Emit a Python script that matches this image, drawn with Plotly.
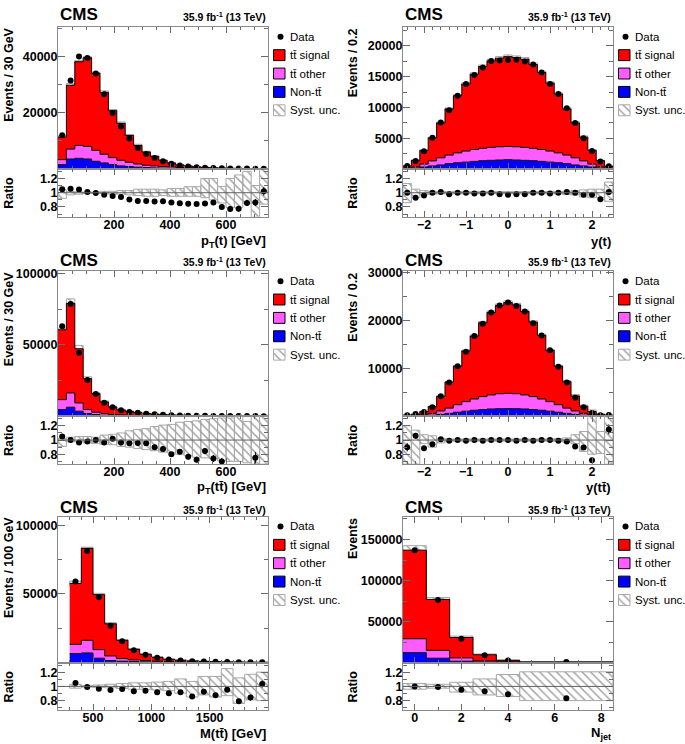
import plotly.graph_objects as go

W, H = 685, 744
TT = "tt\u0304"

# ---------------- data ----------------
# p_T(t)
ptt_edges = list(range(0, 751, 30))
ptt_stack = [11300, 29750, 38100, 39500, 34000, 27200, 20700, 16200, 11900, 8350, 6000, 4450, 3050, 2100, 1400,
             1000, 720, 520, 380, 280, 200, 150, 110, 80, 55]
ptt_other = [3300, 7050, 8350, 8000, 6600, 5200, 4000, 3050, 2350, 1750, 1300, 1050, 820, 700, 500,
             380, 290, 220, 170, 130, 100, 75, 55, 40, 30]
ptt_non = [1500, 3500, 3750, 3500, 2700, 2100, 1500, 1050, 820, 600, 470, 350, 250, 180, 130,
           100, 70, 50, 40, 30, 25, 18, 14, 10, 8]
ptt_data = [12000, 31400, 40000, 39400, 33900, 26500, 19900, 15100, 10800, 7400, 5300, 3900, 2700, 1800, 1200,
            840, 600, 440, 330, 225, 155, 115, 95, 70, 56]
ptt_ratio = [1.05, 1.055, 1.045, 1.01, 0.995, 0.97, 0.955, 0.94, 0.905, 0.885, 0.885, 0.875, 0.88, 0.862, 0.853,
             0.844, 0.84, 0.85, 0.862, 0.80, 0.77, 0.775, 0.857, 0.862, 1.02]
ptt_rerr = [0.005] * 10 + [0.01] * 5 + [0.015, 0.02, 0.02, 0.025, 0.03, 0.035, 0.04, 0.045, 0.05, 0.06]
ptt_hi = [1.04, 1.02, 1.01, 1.01, 1.01, 1.02, 1.02, 1.03, 1.03, 1.05, 1.05, 1.05, 1.04, 1.06, 1.06,
          1.085, 1.085, 1.2, 1.2, 1.09, 1.2, 1.25, 1.3, 1.1, 1.34]
ptt_lo = [0.92, 0.97, 0.98, 0.99, 0.99, 0.99, 0.98, 0.98, 0.97, 0.96, 0.95, 0.95, 0.96, 0.95, 0.95,
          0.95, 0.95, 0.93, 0.9, 0.855, 0.79, 0.79, 0.85, 0.66, 0.84]

# y(t)
yt_edges = [round(-2.5 + 0.2 * i, 1) for i in range(26)]
yt_stack = [470, 1380, 3000, 5050, 7480, 9750, 11900, 13800, 15400, 16640, 17550, 18000, 18250, 18100, 17830,
            16970, 15680, 13950, 12170, 9750, 7480, 5160, 3000, 1330, 420]
yt_other = [100, 330, 780, 1300, 1800, 2250, 2600, 2900, 3150, 3350, 3500, 3600, 3650, 3600, 3500,
            3350, 3150, 2900, 2600, 2250, 1800, 1300, 780, 330, 100]
yt_non = [40, 150, 300, 470, 630, 850, 1000, 1100, 1220, 1330, 1390, 1440, 1500, 1440, 1390,
          1330, 1220, 1100, 1000, 850, 630, 470, 300, 150, 40]
yt_data = [470, 1280, 2880, 5050, 7550, 9550, 11900, 13800, 15250, 16470, 17550, 17640, 17700, 17740, 17470,
           16970, 15680, 13810, 12170, 9850, 7480, 5000, 2910, 1210, 425]
yt_ratio = [1.0, 0.93, 0.96, 1.0, 1.01, 0.98, 1.0, 1.0, 0.99, 0.99, 1.0, 0.98, 0.97, 0.98, 0.98,
            1.0, 1.0, 0.99, 1.0, 1.01, 1.0, 0.97, 0.97, 0.91, 1.01]
yt_rerr = [0.03, 0.02, 0.01] + [0.005] * 19 + [0.01, 0.02, 0.03]
yt_hi = [1.13, 1.05, 1.03, 1.02, 1.02] + [1.015] * 14 + [1.02, 1.03, 1.04, 1.05, 1.05, 1.15]
yt_lo = [0.86, 0.93, 0.97, 0.98, 0.985] + [0.985] * 14 + [0.975, 0.97, 0.94, 0.93, 0.93, 0.88]

# p_T(tt)
pttt_edges = list(range(0, 751, 30))
pttt_stack = [60500, 79000, 47200, 26300, 15800, 10000, 6500, 4400, 3260, 2560, 1900, 1450, 1100, 850, 650,
              520, 410, 330, 270, 220, 180, 150, 125, 100, 85]
pttt_other = [11600, 16300, 9300, 4650, 2800, 1860, 1160, 930, 700, 500, 400, 300, 230, 180, 140,
              110, 90, 70, 55, 45, 35, 28, 22, 18, 15]
pttt_non = [4650, 6300, 3500, 1860, 1160, 700, 470, 350, 260, 200, 150, 110, 85, 65, 50,
            40, 30, 25, 20, 15, 12, 10, 8, 6, 5]
pttt_data = [63000, 78500, 44500, 25300, 15500, 9500, 6300, 4100, 3000, 2400, 1800, 1300, 960, 680, 545,
             400, 300, 280, 200, 155, 100, 83, 69, 75, 47]
pttt_ratio = [1.05, 1.0, 0.965, 0.98, 1.0, 0.965, 1.02, 0.965, 0.955, 0.96, 0.955, 0.9, 0.875, 0.8, 0.835,
              0.765, 0.725, 0.845, 0.74, 0.70, 0.5, 0.5, 0.5, 0.75, 0.5]
pttt_rerr = [0.005, 0.005, 0.005, 0.01, 0.01, 0.01, 0.015, 0.015, 0.02, 0.02, 0.025, 0.03, 0.03, 0.03, 0.035,
             0.04, 0.04, 0.045, 0.05, 0.05, 0.06, 0.06, 0.07, 0.08, 0.08]
pttt_hi = [1.02, 1.04, 1.05, 1.05, 1.04, 1.07, 1.08, 1.10, 1.13, 1.15, 1.16, 1.19, 1.21, 1.22, 1.25,
           1.26, 1.27, 1.29, 1.30, 1.31, 1.31, 1.33, 1.26, 1.34, 1.34]
pttt_lo = [0.91, 0.975, 0.975, 0.96, 0.95, 0.94, 0.935, 0.91, 0.90, 0.88, 0.865, 0.85, 0.83, 0.82, 0.80,
           0.78, 0.76, 0.75, 0.74, 0.71, 0.70, 0.70, 0.68, 0.66, 0.66]

# y(tt)
ytt_edges = [round(-2.5 + 0.2 * i, 1) for i in range(26)]
ytt_stack = [210, 415, 970, 2010, 4150, 7130, 10450, 13630, 16750, 19510, 21660, 23110, 23740, 23250, 21870,
             19650, 16890, 13770, 10450, 7200, 4220, 2080, 970, 415, 210]
ytt_other = [70, 150, 300, 600, 1100, 1700, 2400, 3050, 3600, 4100, 4450, 4700, 4770, 4700, 4450,
             4100, 3600, 3050, 2400, 1700, 1100, 600, 300, 150, 70]
ytt_non = [20, 50, 110, 220, 390, 600, 830, 1050, 1250, 1400, 1510, 1570, 1590, 1570, 1510,
           1400, 1250, 1050, 830, 600, 390, 220, 110, 50, 20]
ytt_data = [190, 440, 860, 1890, 4190, 7060, 10450, 13490, 16750, 19310, 21660, 23110, 23740, 23020, 21870,
            19450, 16890, 13770, 10350, 7060, 3840, 1860, 690, 210, 240]
ytt_ratio = [0.9, 1.06, 0.885, 0.94, 1.01, 0.99, 1.0, 0.99, 1.0, 0.99, 1.0, 1.0, 1.0, 0.99, 1.0,
             0.99, 1.0, 1.0, 0.99, 0.98, 0.91, 0.895, 0.715, 0.5, 1.15]
ytt_rerr = [0.06, 0.04, 0.03, 0.02, 0.015] + [0.005] * 15 + [0.015, 0.02, 0.03, 0.05, 0.07]
ytt_hi = [1.2, 1.14, 1.075, 1.06, 1.025] + [1.015] * 13 + [1.02, 1.03, 1.075, 1.12, 1.34, 1.12, 1.34]
ytt_lo = [0.66, 0.66, 0.95, 0.90, 0.96] + [0.985] * 13 + [0.98, 0.97, 0.95, 0.84, 0.80, 0.81, 0.66]

# M(tt)
mtt_edges = list(range(300, 2001, 100))
mtt_stack = [57700, 83300, 49500, 28250, 16200, 9660, 6040, 3860, 2400, 1700, 1200, 850, 620, 450, 330, 240, 180]
mtt_other = [13300, 16200, 9400, 4830, 2900, 1930, 1450, 1000, 700, 500, 350, 250, 180, 130, 100, 70, 50]
mtt_non = [6520, 7000, 3140, 1450, 970, 720, 500, 350, 250, 180, 130, 90, 65, 50, 35, 25, 18]
mtt_data = [59200, 81400, 47700, 26800, 15550, 9000, 5670, 3550, 2170, 1560, 1030, 785, 545, 430, 260, 200, 185]
mtt_ratio = [1.048, 0.99, 0.967, 0.948, 0.962, 0.933, 0.938, 0.919, 0.905, 0.919, 0.857, 0.924, 0.876, 0.952,
             0.79, 0.843, 1.033]
mtt_rerr = [0.005] * 6 + [0.01, 0.01, 0.015, 0.015, 0.02, 0.02, 0.025, 0.03, 0.03, 0.04, 0.05]
mtt_hi = [1.03, 1.01, 1.02, 1.03, 1.04, 1.05, 1.05, 1.06, 1.07, 1.105, 1.07, 1.14, 1.14, 1.25, 1.12, 1.17, 1.20]
mtt_lo = [0.975, 0.99, 0.985, 0.98, 0.97, 0.96, 0.96, 0.95, 0.94, 0.905, 0.85, 0.88, 0.85, 0.87, 0.76, 0.81, 0.80]

# N_jet
nj_edges = [-0.5, 0.5, 1.5, 2.5, 3.5, 4.5, 8.5]
nj_stack = [137000, 77000, 30500, 9500, 2700, 700]
nj_other = [29000, 14900, 5640, 2000, 800, 300]
nj_non = [12100, 5240, 1610, 600, 200, 80]
nj_data = [137000, 76200, 29000, 8840, 2400, 580]
nj_ratio = [1.0, 0.99, 0.952, 0.93, 0.89, 0.833]
nj_rerr = [0.003, 0.004, 0.006, 0.01, 0.015, 0.02]
nj_hi = [1.04, 1.03, 1.057, 1.105, 1.167, 1.205]
nj_lo = [0.96, 0.975, 0.92, 0.88, 0.857, 0.80]

LEGEND_LABELS = ["Data", TT + " signal", TT + " other", "Non-" + TT, "Syst. unc."]
LUMI = "35.9 fb<sup>-1</sup> (13 TeV)"

panels = [
    dict(edges=ptt_edges, stack=ptt_stack, other=ptt_other, non=ptt_non, data=ptt_data, ratio=ptt_ratio,
         rerr=ptt_rerr, hi=ptt_hi, lo=ptt_lo, xr=[0, 750], ymax=50500, ytick=[20000, 40000], yminor=10000,
         xtick=[200, 400, 600], xminor=50, xtitle="p<sub>T</sub>(t) [GeV]", ytitle="Events / 30 GeV", col=0, row=0),
    dict(edges=yt_edges, stack=yt_stack, other=yt_other, non=yt_non, data=yt_data, ratio=yt_ratio,
         rerr=yt_rerr, hi=yt_hi, lo=yt_lo, xr=[-2.5, 2.5], ymax=23100, ytick=[5000, 10000, 15000, 20000],
         yminor=2500, xtick=[-2, -1, 0, 1, 2], xminor=0.2, xtitle="y(t)", ytitle="Events / 0.2", col=1, row=0),
    dict(edges=pttt_edges, stack=pttt_stack, other=pttt_other, non=pttt_non, data=pttt_data, ratio=pttt_ratio,
         rerr=pttt_rerr, hi=pttt_hi, lo=pttt_lo, xr=[0, 750], ymax=101500, ytick=[50000, 100000], yminor=25000,
         xtick=[200, 400, 600], xminor=50, xtitle="p<sub>T</sub>(" + TT + ") [GeV]", ytitle="Events / 30 GeV",
         col=0, row=1),
    dict(edges=ytt_edges, stack=ytt_stack, other=ytt_other, non=ytt_non, data=ytt_data, ratio=ytt_ratio,
         rerr=ytt_rerr, hi=ytt_hi, lo=ytt_lo, xr=[-2.5, 2.5], ymax=30300, ytick=[10000, 20000, 30000],
         yminor=5000, xtick=[-2, -1, 0, 1, 2], xminor=0.2, xtitle="y(" + TT + ")", ytitle="Events / 0.2",
         col=1, row=1),
    dict(edges=mtt_edges, stack=mtt_stack, other=mtt_other, non=mtt_non, data=mtt_data, ratio=mtt_ratio,
         rerr=mtt_rerr, hi=mtt_hi, lo=mtt_lo, xr=[200, 2000], ymax=106500, ytick=[50000, 100000], yminor=25000,
         xtick=[500, 1000, 1500], xminor=100, xtitle="M(" + TT + ") [GeV]", ytitle="Events / 100 GeV",
         col=0, row=2),
    dict(edges=nj_edges, stack=nj_stack, other=nj_other, non=nj_non, data=nj_data, ratio=nj_ratio,
         rerr=nj_rerr, hi=nj_hi, lo=nj_lo, xr=[-0.5, 8.5], ymax=178000, ytick=[50000, 100000, 150000],
         yminor=25000, xtick=[0, 2, 4, 6, 8], xminor=1, xtitle="N<sub>jet</sub>", ytitle="Events",
         col=1, row=2),
]

# ---------------- geometry (pixels) ----------------
COLS = [(58, 268), (403, 613)]
ROWS = [dict(top=22, mid=165, bot=213, xt=238, cms=10),
        dict(top=268, mid=414, bot=462, xt=486, cms=257),
        dict(top=515, mid=662, bot=710, xt=733, cms=506)]
YTITLE_X = [9, 353]
RATIO_RANGE = [0.665, 1.335]

FONT = "Liberation Sans, Arial, sans-serif"
FRAME = "#8a8a8a"
TICKC = "#6a6a6a"
C_SIG, C_OTH, C_NON = "#ff0000", "#ff5cff", "#0000ff"


def xp(px):
    return px / W


def yp(py):
    return 1 - py / H


def aname(kind, n):
    return f"{kind}axis" if n == 1 else f"{kind}axis{n}"


def aref(kind, n):
    return kind if n == 1 else f"{kind}{n}"


fig = go.Figure()
layout = dict(width=W, height=H, margin=dict(l=0, r=0, t=0, b=0), paper_bgcolor="white",
              plot_bgcolor="white", showlegend=False, barmode="overlay", bargap=0,
              font=dict(family=FONT, color="black"), annotations=[], shapes=[])

tickfont = dict(family=FONT, size=12.5, color="black", weight="bold")
hatch = dict(shape="\\", fgcolor="#333333", size=6, solidity=0.22)

for i, p in enumerate(panels):
    m, r, g = 3 * i + 1, 3 * i + 2, 3 * i + 3
    x0, x1 = COLS[p["col"]]
    R = ROWS[p["row"]]
    e = p["edges"]
    nb = len(e) - 1
    centers = [(e[k] + e[k + 1]) / 2 for k in range(nb)]
    widths = [e[k + 1] - e[k] for k in range(nb)]

    def step(v):
        return list(v) + [v[-1]]

    xm, ym = aref("x", m), aref("y", m)
    xr_, yr_ = aref("x", r), aref("y", r)
    xg, yg = aref("x", g), aref("y", g)

    # stacked histograms (cumulative tops)
    fig.add_trace(go.Scatter(x=e, y=step(p["non"]), mode="lines", line=dict(color="black", width=1, shape="hv"),
                             fill="tozeroy", fillcolor=C_NON, xaxis=xm, yaxis=ym, hoverinfo="skip"))
    fig.add_trace(go.Scatter(x=e, y=step(p["other"]), mode="lines", line=dict(color="black", width=1, shape="hv"),
                             fill="tonexty", fillcolor=C_OTH, xaxis=xm, yaxis=ym, hoverinfo="skip"))
    fig.add_trace(go.Scatter(x=e, y=step(p["stack"]), mode="lines", line=dict(color="black", width=1, shape="hv"),
                             fill="tonexty", fillcolor=C_SIG, xaxis=xm, yaxis=ym, hoverinfo="skip"))
    # systematic band on main
    fig.add_trace(go.Bar(x=centers, width=widths,
                         base=[s * l for s, l in zip(p["stack"], p["lo"])],
                         y=[s * (h - l) for s, h, l in zip(p["stack"], p["hi"], p["lo"])],
                         marker=dict(color="rgba(0,0,0,0)", line=dict(color="#a8a8a8", width=1), pattern=hatch),
                         xaxis=xm, yaxis=ym, hoverinfo="skip"))
    # data
    fig.add_trace(go.Scatter(x=centers, y=p["data"], mode="markers", marker=dict(color="black", size=6),
                             xaxis=xm, yaxis=ym, hoverinfo="skip"))

    # ratio band
    fig.add_trace(go.Bar(x=centers, width=widths, base=p["lo"],
                         y=[h - l for h, l in zip(p["hi"], p["lo"])],
                         marker=dict(color="rgba(0,0,0,0)", line=dict(color="#a8a8a8", width=1), pattern=hatch),
                         xaxis=xr_, yaxis=yr_, hoverinfo="skip"))
    layout["shapes"].append(dict(type="line", xref=f"{xr_} domain", yref=yr_, x0=0, x1=1, y0=1, y1=1,
                                 line=dict(color="#606060", width=1), layer="above"))
    fig.add_trace(go.Scatter(x=centers, y=p["ratio"], mode="markers", marker=dict(color="black", size=6),
                             error_y=dict(type="data", array=p["rerr"], color="black", thickness=1, width=0),
                             xaxis=xr_, yaxis=yr_, hoverinfo="skip"))

    # axes
    common = dict(showline=True, linecolor=FRAME, linewidth=1, mirror="ticks", ticks="inside",
                  tickcolor=TICKC, showgrid=False, zeroline=False, tickfont=tickfont, fixedrange=True)
    layout[aname("x", m)] = dict(common, domain=[xp(x0), xp(x1)], range=p["xr"], anchor=ym,
                                 tickmode="array", tickvals=p["xtick"], showticklabels=False, ticklen=6,
                                 minor=dict(ticks="inside", ticklen=3, dtick=p["xminor"], tick0=0,
                                            tickcolor=TICKC))
    layout[aname("y", m)] = dict(common, domain=[yp(R["mid"]), yp(R["top"])], range=[0, p["ymax"]],
                                 anchor=xm, tickmode="array", tickvals=p["ytick"],
                                 ticktext=[str(v) for v in p["ytick"]], ticklen=7, ticklabelstandoff=-3,
                                 minor=dict(ticks="inside", ticklen=4, dtick=p["yminor"], tick0=0,
                                            tickcolor=TICKC))
    layout[aname("x", r)] = dict(common, domain=[xp(x0), xp(x1)], range=p["xr"], anchor=yr_,
                                 tickmode="array", tickvals=p["xtick"], ticklen=6, ticklabelstandoff=-4,
                                 minor=dict(ticks="inside", ticklen=3, dtick=p["xminor"], tick0=0,
                                            tickcolor=TICKC))
    layout[aname("y", r)] = dict(common, domain=[yp(R["bot"]), yp(R["mid"])], range=RATIO_RANGE,
                                 anchor=xr_, tickmode="array", tickvals=[0.8, 1, 1.2],
                                 ticktext=["0.8", "1", "1.2"], ticklen=7, ticklabelstandoff=-3,
                                 minor=dict(ticks="inside", ticklen=4, dtick=0.1, tick0=0, tickcolor=TICKC))
    # legend canvas (pixel units)
    layout[aname("x", g)] = dict(domain=[xp(x1), xp(x1 + 72)], range=[0, 72], visible=False, fixedrange=True,
                                 anchor=yg)
    layout[aname("y", g)] = dict(domain=[yp(R["top"] + 100), yp(R["top"])], range=[100, 0], visible=False,
                                 fixedrange=True, anchor=xg)
    ly = [10, 28.5, 47, 65.5, 84]
    fig.add_trace(go.Scatter(x=[12.5], y=[ly[0]], mode="markers", marker=dict(color="black", size=6),
                             xaxis=xg, yaxis=yg, hoverinfo="skip"))
    for k, col in zip([1, 2, 3], [C_SIG, C_OTH, C_NON]):
        fig.add_trace(go.Bar(x=[11.25], width=[11.5], base=[ly[k] - 5.5], y=[11],
                             marker=dict(color=col, line=dict(color="black", width=1)),
                             xaxis=xg, yaxis=yg, hoverinfo="skip"))
    fig.add_trace(go.Bar(x=[11.25], width=[11.5], base=[ly[4] - 5.5], y=[11],
                         marker=dict(color="rgba(0,0,0,0)", line=dict(color="#a8a8a8", width=1), pattern=hatch),
                         xaxis=xg, yaxis=yg, hoverinfo="skip"))
    for k, lab in enumerate(LEGEND_LABELS):
        layout["annotations"].append(dict(text=lab, x=xp(x1 + 20), y=yp(R["top"] + ly[k]), xref="paper",
                                          yref="paper", xanchor="left", yanchor="middle", showarrow=False,
                                          font=dict(family=FONT, size=11.5, color="black")))

    # titles and labels
    layout["annotations"].append(dict(text="CMS", x=xp(x0), y=yp(R["cms"]), xref="paper", yref="paper",
                                      xanchor="left", yanchor="middle", showarrow=False,
                                      font=dict(family=FONT, size=17, color="black", weight="bold")))
    layout["annotations"].append(dict(text=LUMI, x=xp(x1), y=yp(R["cms"] + 1.5), xref="paper", yref="paper",
                                      xanchor="right", yanchor="middle", showarrow=False,
                                      font=dict(family=FONT, size=10.5, color="black", weight="bold")))
    layout["annotations"].append(dict(text=p["xtitle"], x=xp(x1), y=yp(R["xt"]), xref="paper", yref="paper",
                                      xanchor="right", yanchor="middle", showarrow=False,
                                      font=dict(family=FONT, size=13, color="black", weight="bold")))
    layout["annotations"].append(dict(text=p["ytitle"], x=xp(YTITLE_X[p["col"]]), y=yp(R["top"] - 1),
                                      xref="paper", yref="paper", xanchor="center", yanchor="top",
                                      textangle=-90, showarrow=False,
                                      font=dict(family=FONT, size=12.5, color="black", weight="bold")))
    layout["annotations"].append(dict(text="Ratio", x=xp(YTITLE_X[p["col"]]), y=yp((R["mid"] + R["bot"]) / 2),
                                      xref="paper", yref="paper", xanchor="center", yanchor="middle",
                                      textangle=-90, showarrow=False,
                                      font=dict(family=FONT, size=12.5, color="black", weight="bold")))

fig.update_layout(**layout)
fig.write_html("out.html", config={"displayModeBar": False, "staticPlot": True},
               post_script="document.body.style.margin='0';")
